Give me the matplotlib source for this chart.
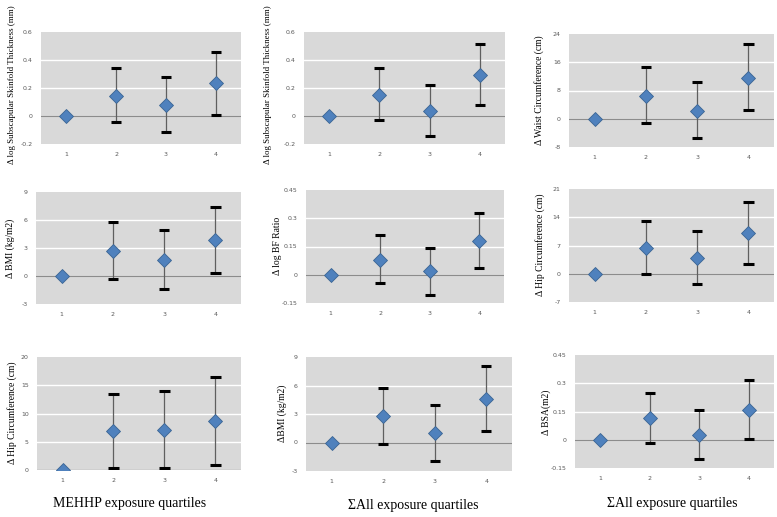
import matplotlib
matplotlib.use("Agg")
import matplotlib.pyplot as plt

W, H = 777, 517
quartiles = [1, 2, 3, 4]
xtick_labels = ["1", "2", "3", "4"]

# values per panel: point estimates, lower CI, upper CI
p1_est = [0, 0.142, 0.08, 0.234]
p1_lo = [0, -0.045, -0.116, 0.005]
p1_hi = [0, 0.34, 0.28, 0.46]

p2_est = [0, 0.151, 0.038, 0.296]
p2_lo = [0, -0.031, -0.144, 0.08]
p2_hi = [0, 0.34, 0.225, 0.516]

p3_est = [-0.2, 6.5, 2.2, 11.4]
p3_lo = [-0.2, -1.2, -5.5, 2.4]
p3_hi = [-0.2, 14.6, 10.3, 21.1]

p4_est = [0, 2.7, 1.69, 3.82]
p4_lo = [0, -0.34, -1.37, 0.27]
p4_hi = [0, 5.77, 4.88, 7.44]

p5_est = [0, 0.08, 0.018, 0.181]
p5_lo = [0, -0.043, -0.107, 0.036]
p5_hi = [0, 0.21, 0.144, 0.33]

p6_est = [0, 6.5, 3.9, 10.0]
p6_lo = [0, 0.04, -2.5, 2.4]
p6_hi = [0, 13.1, 10.5, 17.8]

p7_est = [0, 6.9, 7.1, 8.7]
p7_lo = [0, 0.3, 0.4, 0.9]
p7_hi = [0, 13.5, 13.9, 16.5]

p8_est = [0, 2.75, 0.95, 4.59]
p8_lo = [0, -0.14, -1.9, 1.16]
p8_hi = [0, 5.72, 3.92, 8.08]

p9_est = [0, 0.114, 0.027, 0.16]
p9_lo = [0, -0.018, -0.101, 0.005]
p9_hi = [0, 0.249, 0.16, 0.316]

yticks1 = [-0.2, 0, 0.2, 0.4, 0.6]
yticks2 = [-0.2, 0, 0.2, 0.4, 0.6]
yticks3 = [-8, 0, 8, 16, 24]
yticks4 = [-3, 0, 3, 6, 9]
yticks5 = [-0.15, 0, 0.15, 0.3, 0.45]
yticks6 = [-7, 0, 7, 14, 21]
yticks7 = [0, 5, 10, 15, 20]
yticks8 = [-3, 0, 3, 6, 9]
yticks9 = [-0.15, 0, 0.15, 0.3, 0.45]

ylabels = [
    "Δ log Subscapular Skinfold Thickness (mm)",
    "Δ log Subscapular Skinfold Thickness (mm)",
    "Δ Waist Circumference (cm)",
    "Δ BMI (kg/m2)",
    "Δ log BF Ratio",
    "Δ Hip Circumference (cm)",
    "Δ Hip Circumference (cm)",
    "ΔBMI (kg/m2)",
    "Δ BSA(m2)",
]
xlabels = ["MEHHP exposure quartiles", "ΣAll exposure quartiles", "ΣAll exposure quartiles"]

panels = [
    (p1_est, p1_lo, p1_hi, yticks1),
    (p2_est, p2_lo, p2_hi, yticks2),
    (p3_est, p3_lo, p3_hi, yticks3),
    (p4_est, p4_lo, p4_hi, yticks4),
    (p5_est, p5_lo, p5_hi, yticks5),
    (p6_est, p6_lo, p6_hi, yticks6),
    (p7_est, p7_lo, p7_hi, yticks7),
    (p8_est, p8_lo, p8_hi, yticks8),
    (p9_est, p9_lo, p9_hi, yticks9),
]

# axes boxes in pixels: left, right, top, bottom
boxes = [
    (41, 241, 32, 144), (304, 505, 32, 144), (569, 774, 34, 147),
    (36, 241, 192, 304), (306, 504, 190, 303), (569, 774, 189, 302),
    (37, 241, 357, 470), (306, 512, 357, 471), (575, 774, 355, 468),
]
ylabel_x = [12, 268, 539, 10, 277, 540, 12, 282, 546]
ylabel_y = [85, 85, 90, 248, 246, 245, 413, 413, 412]
ylabel_fs = [6.4, 6.4, 6.9, 6.9, 6.9, 6.9, 6.9, 6.9, 6.9]

fig = plt.figure(figsize=(W / 100, H / 100), dpi=100)
fig.patch.set_facecolor("white")

for i, ((est, lo, hi, yt), (l, r, t, b)) in enumerate(zip(panels, boxes)):
    ax = fig.add_axes([l / W, 1 - b / H, (r - l) / W, (b - t) / H])
    ax.set_facecolor("#d9d9d9")
    for s in ax.spines.values():
        s.set_visible(False)
    ax.set_xlim(0.5, 4.5)
    ax.set_ylim(yt[0], yt[-1])
    ax.set_yticks(yt)
    ax.set_yticklabels(["%g" % v for v in yt])
    ax.set_xticks(quartiles)
    ax.set_xticklabels(xtick_labels)
    ax.tick_params(length=0, labelsize=4.5, labelcolor="#595959", pad=6)
    for v in yt[1:-1]:
        ax.axhline(v, color="white", lw=1.0, zorder=1)
    ax.axhline(0, color="#8c8c8c", lw=0.9, zorder=1.5)
    yerr = [[e - a for e, a in zip(est, lo)], [c - e for e, c in zip(est, hi)]]
    idx = [1, 2, 3]
    ax.errorbar([quartiles[j] for j in idx], [est[j] for j in idx],
                yerr=[[yerr[0][j] for j in idx], [yerr[1][j] for j in idx]],
                fmt="none", ecolor="#5f5f5f", elinewidth=0.9, capsize=0, zorder=2)
    for j in idx:
        ax.plot([quartiles[j] - 0.1, quartiles[j] + 0.1], [lo[j], lo[j]], color="black", lw=2.2,
                solid_capstyle="butt", zorder=3)
        ax.plot([quartiles[j] - 0.1, quartiles[j] + 0.1], [hi[j], hi[j]], color="black", lw=2.2,
                solid_capstyle="butt", zorder=3)
    ax.plot(quartiles, est, linestyle="none", marker="D", markersize=6.8,
            markerfacecolor="#4f81bd", markeredgecolor="#3a6493", markeredgewidth=0.6, zorder=4)
    fig.text(ylabel_x[i] / W, 1 - ylabel_y[i] / H, ylabels[i], rotation=90,
             ha="center", va="center", fontsize=ylabel_fs[i], family="Liberation Serif")

for k, (x, y) in enumerate([(130, 503), (413, 506), (672, 503)]):
    fig.text(x / W, 1 - y / H, xlabels[k], ha="center", va="center", fontsize=10,
             family="Liberation Serif")

fig.savefig("out.png", dpi=100)
